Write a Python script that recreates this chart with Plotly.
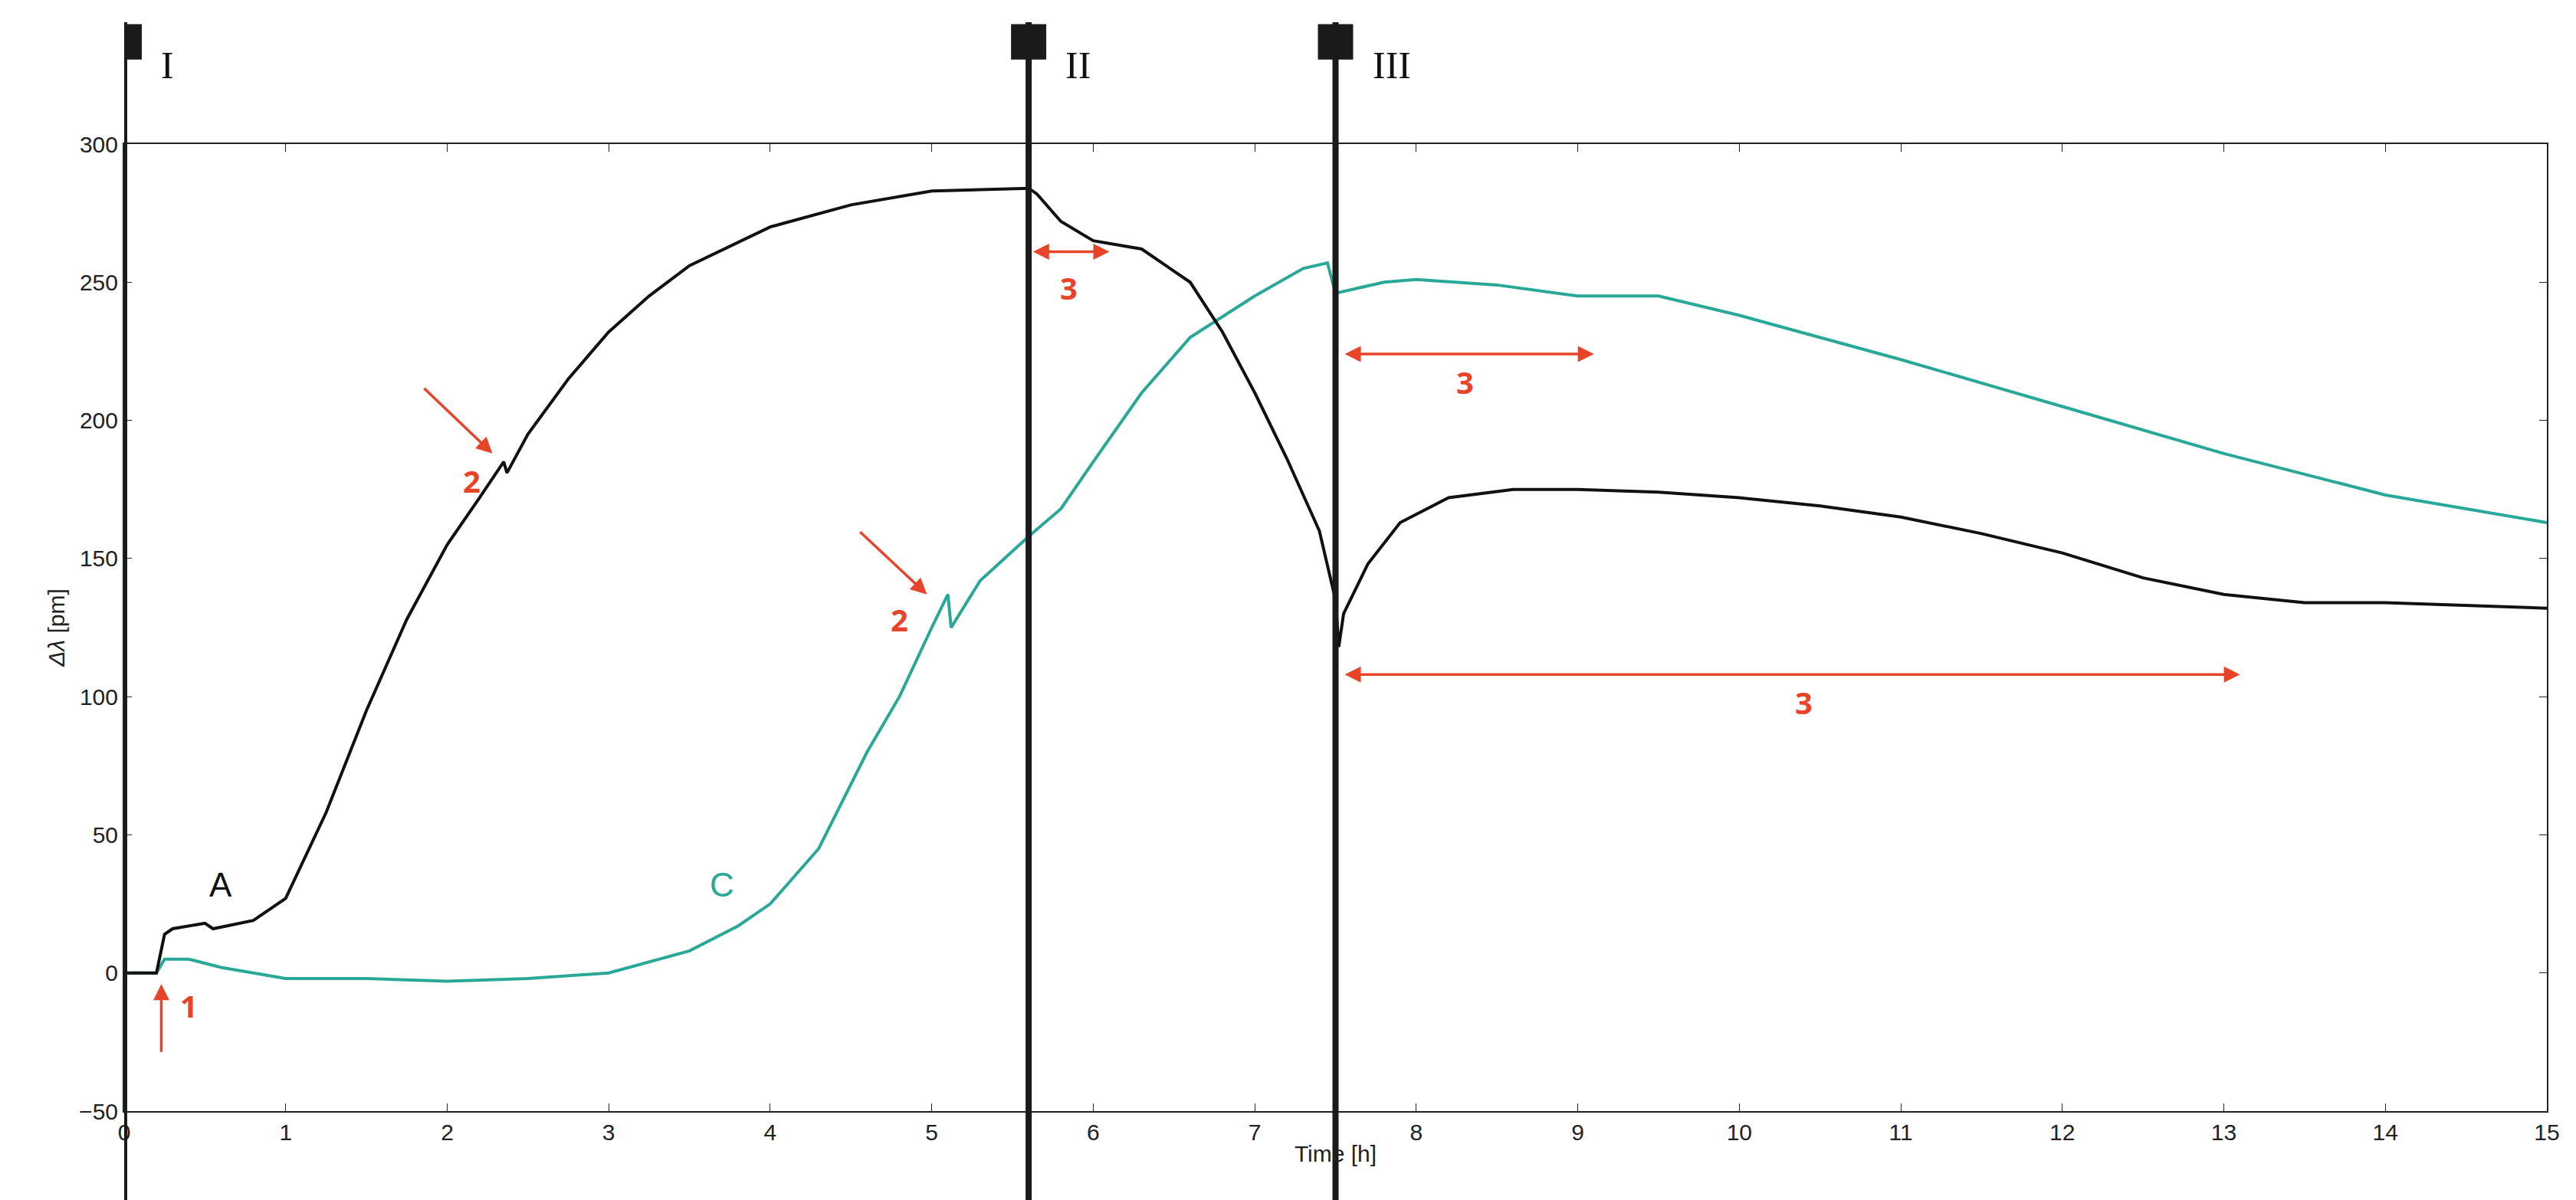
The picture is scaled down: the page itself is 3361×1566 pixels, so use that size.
import plotly.graph_objects as go

t_a = [0,0.2,0.25,0.3,0.5,0.55,0.8,1.0,1.25,1.5,1.75,2.0,2.2,2.35,2.37,2.5,2.75,3,3.25,3.5,4,4.5,5,5.5,5.6,5.65,5.8,6.0,6.3,6.6,6.8,7.0,7.2,7.4,7.5,7.52,7.55,7.7,7.9,8.2,8.6,9,9.5,10,10.5,11,11.5,12,12.5,13,13.5,14,14.5,15]
v_a = [0,0,14,16,18,16,19,27,58,95,128,155,172,185,181,195,215,232,245,256,270,278,283,284,284,282,272,265,262,250,232,210,186,160,135,118,130,148,163,172,175,175,174,172,169,165,159,152,143,137,134,134,133,132]
t_c = [0,0.2,0.25,0.4,0.6,1.0,1.5,2.0,2.5,3.0,3.5,3.8,4.0,4.3,4.6,4.8,5.0,5.1,5.12,5.3,5.6,5.8,6.0,6.3,6.6,7.0,7.3,7.45,7.5,7.8,8.0,8.5,9,9.5,10,11,12,13,14,15]
v_c = [0,0,5,5,2,-2,-2,-3,-2,0,8,17,25,45,80,100,125,137,125,142,158,168,185,210,230,245,255,257,246,250,251,249,245,245,238,222,205,188,173,163]
vlines_x = [0, 5.6, 7.5]
vlines_lbl = ["I", "II", "III"]

RED = "#e8442a"
fig = go.Figure()
fig.add_trace(go.Scatter(x=t_c, y=v_c, mode="lines", line=dict(color="#2aa897", width=4)))
fig.add_trace(go.Scatter(x=t_a, y=v_a, mode="lines", line=dict(color="#111111", width=4)))
sq_w, sq_h, sq_y = 0.218, 0.0365, 1.1057
for x, l in zip(vlines_x, vlines_lbl):
    fig.add_shape(type="line", x0=x, x1=x, xref="x", yref="paper", y0=-0.093, y1=1.126,
                  line=dict(color="#1a1a1a", width=8), layer="above")
    fig.add_shape(type="rect", x0=x-sq_w/2, x1=x+sq_w/2, xref="x", yref="paper",
                  y0=sq_y-sq_h/2, y1=sq_y+sq_h/2, fillcolor="#1a1a1a", line=dict(width=0), layer="above")
    fig.add_annotation(x=x+0.22, y=sq_y, xref="x", yref="paper", text=l, showarrow=False, xanchor="left",
                       font=dict(family="Liberation Serif", size=50, color="#111"))

fig.add_annotation(x=0.6, y=32, text="A", showarrow=False, font=dict(size=44, color="#111"))
fig.add_annotation(x=3.7, y=32, text="C", showarrow=False, font=dict(size=44, color="#2aa897"))

def arrow(x0, y0, x1, y1, both=False):
    fig.add_annotation(x=x1, y=y1, ax=x0, ay=y0, xref="x", yref="y", axref="x", ayref="y",
                       showarrow=True, arrowhead=2, arrowsize=1.2, arrowwidth=3.5, arrowcolor=RED,
                       arrowside="end+start" if both else "end", text="")
def lbl(x, y, s):
    fig.add_annotation(x=x, y=y, text="<b>"+s+"</b>", showarrow=False,
                       font=dict(size=40, color=RED, family="Open Sans"))

arrow(0.23, -29, 0.23, -4); lbl(0.4, -12, "1")
arrow(1.85, 212, 2.28, 188); lbl(2.15, 178, "2")
arrow(4.55, 160, 4.97, 137); lbl(4.8, 128, "2")
arrow(5.62, 261, 6.1, 261, True); lbl(5.85, 248, "3")
arrow(7.55, 224, 9.1, 224, True); lbl(8.3, 214, "3")
arrow(7.55, 108, 13.1, 108, True); lbl(10.4, 98, "3")

ax = dict(showline=True, linecolor="#222", linewidth=2, mirror="ticks", ticks="inside",
          ticklen=10, tickcolor="#222", showgrid=False, zeroline=False,
          tickfont=dict(size=30, family="Liberation Sans", color="#222"))
fig.update_xaxes(**ax, range=[0, 15], dtick=1,
                 title=dict(text="Time [h]", font=dict(size=30, color="#222"), standoff=2))
fig.update_yaxes(**ax, range=[-50, 300], dtick=50,
                 title=dict(text="<i>Δλ</i> [pm]", font=dict(size=30, color="#222"), standoff=10))
fig.update_layout(width=3361, height=1566, showlegend=False, plot_bgcolor="white", paper_bgcolor="white",
                  margin=dict(l=154, r=46, t=180, b=124), font=dict(family="Liberation Sans"))
fig.write_html("out.html")
